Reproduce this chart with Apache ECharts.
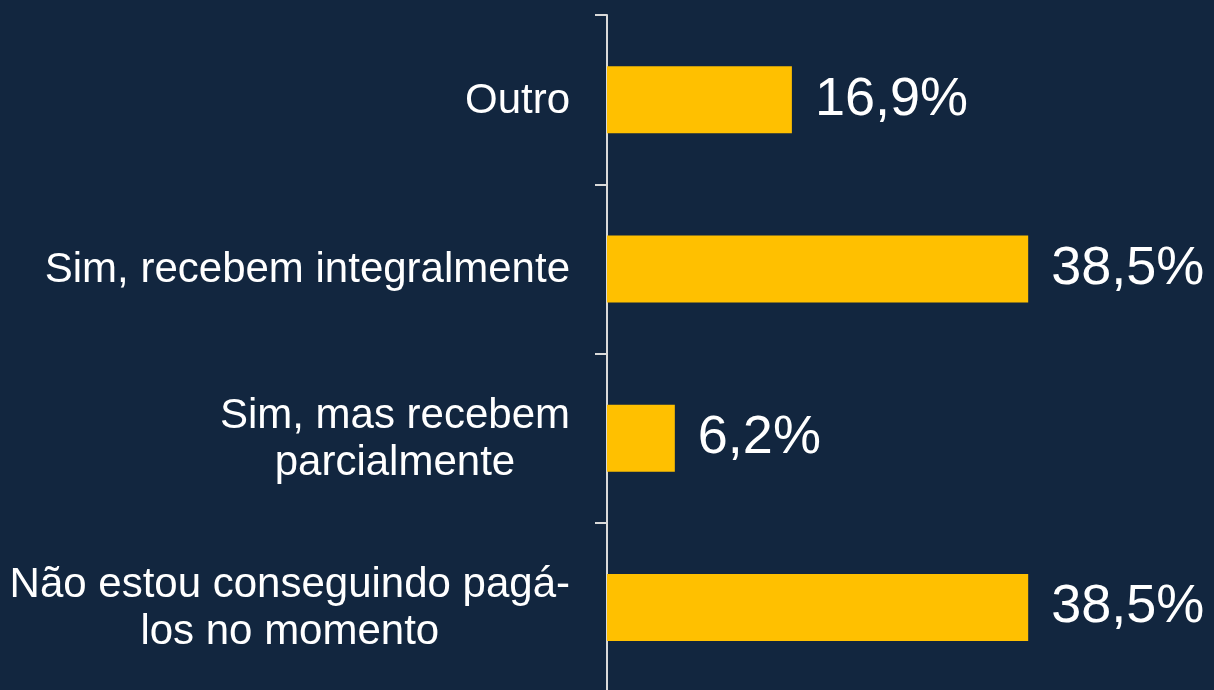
<!DOCTYPE html>
<html>
<head>
<meta charset="utf-8">
<style>
  html, body { margin: 0; padding: 0; background: #12263f; }
  #chart { width: 1214px; height: 690px; }
</style>
<script src="https://cdn.jsdelivr.net/npm/echarts@6/dist/echarts.min.js"></script>
</head>
<body>
<div id="chart"></div>
<script>
// categories from bottom to top (category axis runs upward)
const categories = [
  'Não estou conseguindo pagá-\nlos no momento',
  'Sim, mas recebem\nparcialmente',
  'Sim, recebem integralmente',
  'Outro'
]
const values = [38.5, 6.2, 38.5, 16.9]

const chart = echarts.init(document.getElementById('chart'))

const option = {
  backgroundColor: '#12263f',
  animation: false,
  grid: {
    left: 607,
    top: 15,
    width: 547,
    height: 677,
    outerBoundsMode: 'none'
  },
  xAxis: {
    type: 'value',
    min: 0,
    max: 50,
    show: false
  },
  yAxis: {
    type: 'category',
    data: categories,
    axisLine: {
      show: true,
      lineStyle: { color: '#d9d9d9', width: 2 }
    },
    axisTick: {
      show: true,
      length: 12,
      lineStyle: { color: '#d9d9d9', width: 2 }
    },
    axisLabel: {
      margin: 37,
      formatter: value => value.split('\n').map(l => '{c|' + l + '}').join('\n'),
      rich: {
        c: {
          color: '#ffffff',
          fontFamily: 'Liberation Sans, Arial, sans-serif',
          fontSize: 42,
          lineHeight: 47,
          align: 'center',
          padding: [4, 0, 0, 0]
        }
      }
    }
  },
  series: [
    {
      type: 'bar',
      data: values,
      barWidth: 67,
      itemStyle: { color: '#ffc000' },
      label: {
        show: true,
        position: 'right',
        distance: 23,
        color: '#ffffff',
        fontFamily: 'Liberation Sans, Arial, sans-serif',
        fontSize: 54,
        formatter: p => p.value.toFixed(1).replace('.', ',') + '%'
      }
    }
  ]
}

chart.setOption(option)
</script>
</body>
</html>
